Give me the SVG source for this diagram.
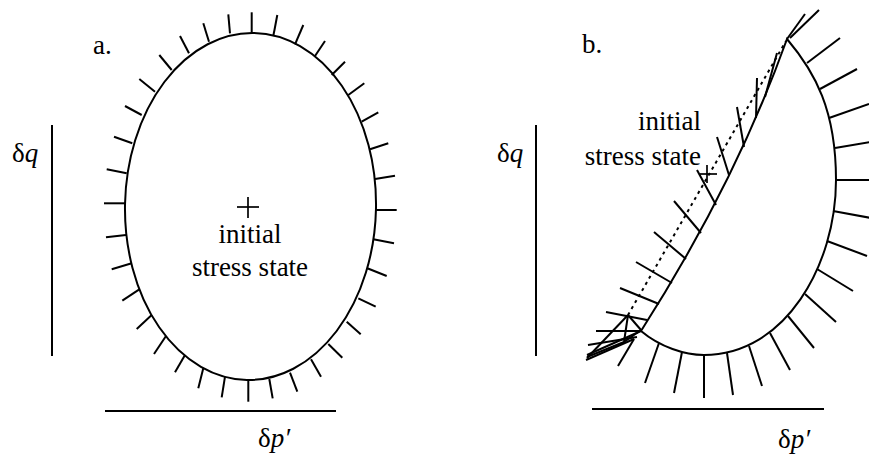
<svg xmlns="http://www.w3.org/2000/svg" width="869" height="461" viewBox="0 0 869 461">
<style>
.ln{stroke:#000;stroke-width:2;fill:none;stroke-linecap:butt}
.tk{stroke:#000;stroke-width:2;fill:none}
.cr{stroke:#000;stroke-width:1.7;fill:none}
.dot{stroke:#000;stroke-width:2;fill:none;stroke-dasharray:3 4}
.t{font-family:"Liberation Serif","Times New Roman","DejaVu Serif",serif;font-size:27px;fill:#000}
.it{font-style:italic}
</style>
<rect width="869" height="461" fill="#fff"/>
<g id="panel-a">
  <g id="a-axes">
    <line class="ln" x1="52" y1="125" x2="52" y2="356"/>
    <line class="ln" x1="105" y1="411" x2="336" y2="411"/>
  </g>
  <g id="a-outline">
    <ellipse class="ln" cx="250.5" cy="206.5" rx="125.5" ry="173.5" transform="rotate(1.2 250.5 206.5)"/>
  </g>
  <g id="a-ticks" class="tk">
    <line x1="251.7" y1="32.7" x2="251.7" y2="12.3"/>
    <line x1="230" y1="33.3" x2="228.3" y2="14.3"/>
    <line x1="209" y1="41.7" x2="203.3" y2="23.3"/>
    <line x1="189" y1="53.3" x2="180" y2="36"/>
    <line x1="171.7" y1="70" x2="159.3" y2="55"/>
    <line x1="155" y1="91.7" x2="139.3" y2="79"/>
    <line x1="141.7" y1="115" x2="125" y2="106"/>
    <line x1="132.3" y1="143.3" x2="114" y2="136.7"/>
    <line x1="126.7" y1="173.3" x2="106.7" y2="169.3"/>
    <line x1="125" y1="203.3" x2="104" y2="203.3"/>
    <line x1="126" y1="235" x2="106" y2="237.3"/>
    <line x1="131.7" y1="263.3" x2="111.7" y2="269.3"/>
    <line x1="139.3" y1="289.3" x2="122.3" y2="300.7"/>
    <line x1="151.7" y1="315" x2="136.7" y2="329"/>
    <line x1="166" y1="336" x2="154" y2="354"/>
    <line x1="185" y1="355" x2="175" y2="372.3"/>
    <line x1="203.3" y1="368.3" x2="198.3" y2="388.3"/>
    <line x1="225" y1="376.7" x2="221.7" y2="397.3"/>
    <line x1="248.3" y1="380" x2="248.3" y2="401.7"/>
    <line x1="269.3" y1="379" x2="272.7" y2="398.3"/>
    <line x1="290" y1="372.7" x2="297.3" y2="391.7"/>
    <line x1="311" y1="359.3" x2="321" y2="376.7"/>
    <line x1="328.3" y1="344" x2="342.3" y2="357.7"/>
    <line x1="346.7" y1="321.7" x2="360.7" y2="334.3"/>
    <line x1="358.3" y1="298.3" x2="375.7" y2="306.7"/>
    <line x1="367.3" y1="268.3" x2="386.7" y2="276"/>
    <line x1="373.3" y1="239.3" x2="394" y2="243.3"/>
    <line x1="376" y1="210" x2="396.7" y2="210"/>
    <line x1="375" y1="179" x2="395" y2="175.7"/>
    <line x1="370" y1="149.3" x2="388.3" y2="143.3"/>
    <line x1="361.7" y1="121.7" x2="378.3" y2="112.3"/>
    <line x1="348.3" y1="95" x2="364.3" y2="83.3"/>
    <line x1="331.7" y1="75" x2="345" y2="61.7"/>
    <line x1="315" y1="56" x2="325" y2="41"/>
    <line x1="295" y1="44.3" x2="303.3" y2="25"/>
    <line x1="273.3" y1="36" x2="277.3" y2="15"/>
  </g>
  <g id="a-cross" class="cr">
    <line x1="237" y1="207" x2="259" y2="207"/>
    <line x1="248" y1="197" x2="248" y2="218"/>
  </g>
  <g id="a-labels">
    <text class="t" font-family="Liberation Serif, serif" x="93" y="54">a.</text>
    <text class="t" font-family="Liberation Serif, serif" x="250" y="243" text-anchor="middle">initial</text>
    <text class="t" font-family="Liberation Serif, serif" x="250" y="276" text-anchor="middle">stress state</text>
    <text class="t" font-family="Liberation Serif, serif" x="12" y="162">δ<tspan class="it">q</tspan></text>
    <text class="t" font-family="Liberation Serif, serif" x="258" y="447">δ<tspan class="it">p′</tspan></text>
  </g>
</g>
<g id="panel-b">
  <g id="b-axes">
    <line class="ln" x1="536" y1="125" x2="536" y2="356"/>
    <line class="ln" x1="592" y1="409" x2="824" y2="409"/>
  </g>
  <g id="b-outline">
    <path class="ln" d="M641,331 C680,270 740,170 787,39 C815,72 836,110 836,180 C836,265 785,355 704,355 C685,355 660,347 641,331 Z"/>
  </g>
  <g id="b-dotted">
    <line class="dot" x1="628" y1="315" x2="786" y2="41"/>
  </g>
  <g id="b-ticks" class="tk">
    <line x1="787" y1="39" x2="805" y2="14"/>
    <line x1="790" y1="38" x2="819" y2="10"/>
    <line x1="807" y1="63" x2="840" y2="38"/>
    <line x1="820" y1="89" x2="857" y2="69"/>
    <line x1="829" y1="118" x2="869" y2="104"/>
    <line x1="835" y1="148" x2="871" y2="142"/>
    <line x1="836" y1="180" x2="872" y2="180"/>
    <line x1="833" y1="211" x2="871" y2="218"/>
    <line x1="827" y1="241" x2="867" y2="256"/>
    <line x1="817" y1="269" x2="853" y2="291"/>
    <line x1="805" y1="294" x2="836" y2="322"/>
    <line x1="788" y1="316" x2="814" y2="348"/>
    <line x1="770" y1="333" x2="790" y2="370"/>
    <line x1="749" y1="346" x2="762" y2="386"/>
    <line x1="727" y1="353" x2="733" y2="395"/>
    <line x1="704" y1="355" x2="704" y2="398"/>
    <line x1="682" y1="352" x2="674" y2="393"/>
    <line x1="659" y1="343" x2="645" y2="383"/>
    <line x1="634" y1="339" x2="618" y2="366"/>
    <line x1="765" y1="97" x2="777" y2="53"/>
    <line x1="756" y1="118" x2="757" y2="78"/>
    <line x1="744" y1="147" x2="737" y2="107"/>
    <line x1="729" y1="175" x2="717" y2="137"/>
    <line x1="716" y1="205" x2="697" y2="170"/>
    <line x1="701" y1="233" x2="674" y2="201"/>
    <line x1="686" y1="259" x2="654" y2="232"/>
    <line x1="672" y1="283" x2="636" y2="262"/>
    <line x1="659" y1="304" x2="620" y2="288"/>
    <line x1="647" y1="320" x2="606" y2="312"/>
    <line x1="641" y1="331" x2="596" y2="331"/>
  </g>
  <g id="b-knot" class="tk">
    <line x1="628" y1="315" x2="641" y2="330"/>
    <line x1="628" y1="315" x2="587" y2="358"/>
    <line x1="628" y1="315" x2="624" y2="342"/>
    <line x1="641" y1="330" x2="624" y2="342"/>
    <line x1="588" y1="345" x2="637" y2="337"/>
    <line x1="624" y1="342" x2="587" y2="357"/>
    <line x1="634" y1="339" x2="586" y2="360"/>
    <line x1="641" y1="331" x2="587" y2="355"/>
  </g>
  <g id="b-cross" class="cr">
    <line x1="700" y1="174" x2="717" y2="174"/>
    <line x1="707" y1="165" x2="707" y2="183"/>
  </g>
  <g id="b-labels">
    <text class="t" font-family="Liberation Serif, serif" x="582" y="53">b.</text>
    <text class="t" font-family="Liberation Serif, serif" x="701" y="130" text-anchor="end">initial</text>
    <text class="t" font-family="Liberation Serif, serif" x="701" y="165" text-anchor="end">stress state</text>
    <text class="t" font-family="Liberation Serif, serif" x="497" y="162">δ<tspan class="it">q</tspan></text>
    <text class="t" font-family="Liberation Serif, serif" x="778" y="448">δ<tspan class="it">p′</tspan></text>
  </g>
</g>
</svg>
